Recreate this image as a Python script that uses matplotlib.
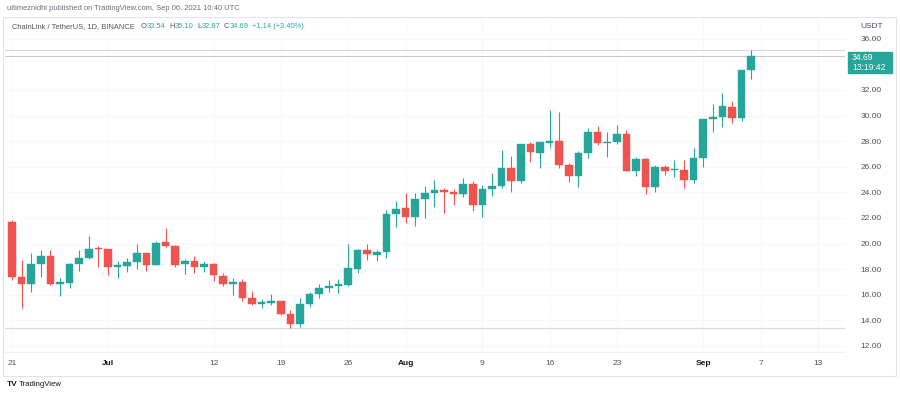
import matplotlib
matplotlib.use('Agg')
import matplotlib.pyplot as plt
import matplotlib.dates as mdates
from matplotlib.patches import Rectangle
from matplotlib.lines import Line2D
import pandas as pd

# ---------------- data ----------------
dates = pd.date_range('2021-06-21', periods=78, freq='D')
opens = [21.66, 17.37, 16.84, 18.41, 19.05, 16.84, 16.95, 18.38, 18.85, 19.65,
         19.55, 18.20, 18.27, 18.53, 19.24, 18.33, 20.10, 19.80, 18.40, 18.64,
         18.20, 18.41, 17.50, 16.84, 16.97, 15.77, 15.28, 15.38, 15.50, 14.50,
         13.72, 15.28, 16.06, 16.50, 16.69, 16.77, 18.00, 19.50, 19.10, 19.37,
         22.29, 22.76, 22.05, 23.46, 23.93, 24.19, 24.03, 23.88, 24.66, 23.00,
         24.24, 24.50, 25.88, 24.92, 27.76, 27.05, 27.88, 28.00, 26.14, 25.28,
         27.10, 28.70, 27.84, 27.96, 28.54, 25.70, 26.60, 24.40, 26.00, 25.72,
         25.75, 24.97, 26.66, 29.70, 29.90, 30.70, 29.84, 33.54]
highs = [21.84, 18.72, 19.24, 19.50, 19.50, 17.30, 18.50, 19.50, 20.59, 19.80,
         19.60, 18.60, 18.85, 19.97, 19.30, 20.20, 21.20, 19.85, 18.77, 19.00,
         18.60, 18.50, 17.70, 17.30, 17.20, 16.30, 15.65, 16.04, 15.55, 14.80,
         15.73, 16.24, 16.82, 17.16, 17.20, 19.97, 19.60, 19.97, 19.50, 22.62,
         23.35, 23.98, 23.98, 24.50, 24.97, 24.32, 24.27, 25.10, 24.90, 24.58,
         25.50, 27.30, 26.84, 27.80, 27.90, 27.96, 30.44, 30.26, 26.30, 27.20,
         29.00, 29.18, 28.70, 29.27, 28.90, 26.80, 26.65, 26.14, 26.14, 26.53,
         26.53, 27.50, 29.75, 30.90, 31.74, 31.16, 33.55, 35.10]
lows = [17.16, 14.99, 16.20, 17.37, 16.80, 15.90, 16.55, 17.86, 18.80, 18.15,
        17.55, 17.30, 17.80, 18.00, 17.86, 18.30, 19.70, 18.15, 17.60, 17.70,
        17.80, 17.08, 16.69, 15.98, 15.55, 15.20, 15.00, 15.20, 14.40, 13.43,
        13.50, 15.07, 15.73, 16.24, 16.16, 16.69, 17.68, 18.72, 18.60, 18.85,
        21.27, 21.59, 21.40, 21.98, 22.84, 22.41, 23.00, 23.60, 22.55, 22.05,
        23.70, 24.32, 24.05, 24.76, 26.35, 25.88, 27.50, 25.90, 24.84, 24.45,
        26.66, 27.70, 26.80, 27.80, 25.68, 25.30, 23.88, 24.05, 25.36, 25.18,
        24.32, 24.70, 26.00, 28.74, 29.08, 29.40, 29.60, 32.87]
closes = [17.37, 16.84, 18.41, 19.05, 16.84, 16.97, 18.41, 18.85, 19.55, 19.58,
          18.20, 18.33, 18.53, 19.24, 18.33, 20.07, 19.80, 18.33, 18.64, 18.20,
          18.38, 17.55, 16.84, 16.97, 15.73, 15.26, 15.40, 15.54, 14.50, 13.72,
          15.28, 16.06, 16.50, 16.71, 16.82, 18.07, 19.50, 19.16, 19.37, 22.29,
          22.70, 22.05, 23.46, 23.93, 24.19, 24.06, 23.88, 24.66, 23.00, 24.24,
          24.50, 25.88, 24.92, 27.76, 27.13, 27.90, 28.00, 26.10, 25.28, 27.10,
          28.70, 27.84, 27.96, 28.54, 25.70, 26.60, 24.40, 26.00, 25.70, 25.80,
          24.97, 26.71, 29.73, 29.90, 30.75, 29.84, 33.54, 34.69]

tick_dates = ['2021-06-21', '2021-07-01', '2021-07-12', '2021-07-19', '2021-07-26',
              '2021-08-01', '2021-08-09', '2021-08-16', '2021-08-23', '2021-09-01',
              '2021-09-07', '2021-09-13']
tick_labels = ['21', 'Jul', '12', '19', '26', 'Aug', '9', '16', '23', 'Sep', '7', '13']
bold_labels = ['Jul', 'Aug', 'Sep']
price_ticks = [12, 14, 16, 18, 20, 22, 24, 26, 28, 30, 32, 36]

title_text = 'ultimeznidhi published on TradingView.com, Sep 06, 2021 10:40 UTC'
symbol_text = 'ChainLink / TetherUS, 1D, BINANCE'
last_price_text = '34.69'
countdown_text = '13:19:42'

# ---------------- style ----------------
UP = '#26a69a'
DOWN = '#ef5350'
TXT = '#50535e'
FONT = 'Liberation Sans'
plt.rcParams['font.family'] = [FONT, 'DejaVu Sans']

W, H = 900, 395
fig = plt.figure(figsize=(W / 100, H / 100), dpi=100)
fig.patch.set_facecolor('white')


def fx(px):
    return px / W


def fy(py):
    return 1 - py / H


ax = fig.add_axes([fx(5), fy(352), fx(845) - fx(5), fy(18) - fy(352)])
xd = mdates.date2num(dates)
x0 = xd[0]
ax.set_xlim(x0 - 0.73, x0 + 86.77)
ax.set_ylim(11.53, 37.62)

# faint grid
for t in tick_dates:
    ax.axvline(mdates.date2num(pd.Timestamp(t)), color='#f7f8fa', lw=0.8, zorder=0)
for p in price_ticks:
    ax.axhline(p, color='#f7f8fa', lw=0.8, zorder=0)

# high / low / last lines
ax.axhline(max(highs), color='#d6d8de', lw=0.8, zorder=1)
ax.axhline(closes[-1], color='#c8cad0', lw=0.8, zorder=1)
ax.axhline(min(lows), color='#d6d8de', lw=0.8, zorder=1)

# candles
for xi, o, h, l, c in zip(xd, opens, highs, lows, closes):
    col = UP if c >= o else DOWN
    ax.vlines(xi, l, h, color=col, lw=0.8, zorder=2)
    bottom = min(o, c)
    height = max(abs(c - o), 0.06)
    ax.bar(xi, height, bottom=bottom, width=0.78, color=col, edgecolor=col,
           linewidth=0.3, zorder=3)

for s in ax.spines.values():
    s.set_visible(False)

ax.set_xticks([mdates.date2num(pd.Timestamp(t)) for t in tick_dates])
ax.set_xticklabels(tick_labels)
for lbl in ax.get_xticklabels():
    lbl.set_fontsize(6)
    lbl.set_color('#131722' if lbl.get_text() in bold_labels else TXT)
    if lbl.get_text() in bold_labels:
        lbl.set_fontweight('bold')
ax.tick_params(axis='x', length=0, pad=6)

ax.yaxis.tick_right()
ax.set_yticks(price_ticks)
ax.set_yticklabels([f'{p:.2f}' for p in price_ticks])
ax.tick_params(axis='y', length=0, pad=11, labelsize=6, labelcolor=TXT)

# ---------------- overlays ----------------
fig.add_artist(Rectangle((fx(3), fy(376)), fx(896) - fx(3), fy(17) - fy(376),
                         transform=fig.transFigure, fill=False,
                         edgecolor='#e0e3eb', lw=0.8))
fig.add_artist(Line2D([fx(5), fx(845)], [fy(352), fy(352)], transform=fig.transFigure,
                      color='#eceef2', lw=0.6))

# price label box
fig.add_artist(Rectangle((fx(848), fy(73)), fx(892) - fx(848), fy(52) - fy(73),
                         transform=fig.transFigure, facecolor=UP, edgecolor=UP))
fig.text(fx(852), fy(58), last_price_text, color='white', fontsize=6.2,
         ha='left', va='center')
fig.text(fx(852), fy(67.5), countdown_text, color='white', fontsize=6.2,
         ha='left', va='center')
fig.text(fx(872), fy(27), 'USDT', color=TXT, fontsize=6, ha='center', va='center')

# title
fig.text(fx(7), fy(8.5), title_text, color='#6a6d78', fontsize=5.4,
         ha='left', va='center')

# legend line with pieces
renderer = fig.canvas.get_renderer()
pieces = [(symbol_text, TXT, 6), ('O', TXT, 0.3), ('33.54', UP, 3.5), ('H', TXT, 0.3),
          ('35.10', UP, 3.5), ('L', TXT, 0.3), ('32.87', UP, 3.5), ('C', TXT, 0.3),
          ('34.69', UP, 3.5), ('+1.14 (+3.40%)', UP, 0)]
xpos = 12
for txt, col, gap in pieces:
    t = fig.text(fx(xpos), fy(27), txt, color=col, fontsize=5.4, ha='left', va='center')
    bb = t.get_window_extent(renderer=renderer)
    xpos += bb.width + gap

# TradingView logo
fig.text(fx(7), fy(385), 'TV', color='#131722', fontsize=6, fontweight='bold',
         ha='left', va='center')
fig.text(fx(19), fy(385), 'TradingView', color='#131722', fontsize=5.6,
         ha='left', va='center')

fig.savefig('out.png', dpi=100, facecolor='white')
